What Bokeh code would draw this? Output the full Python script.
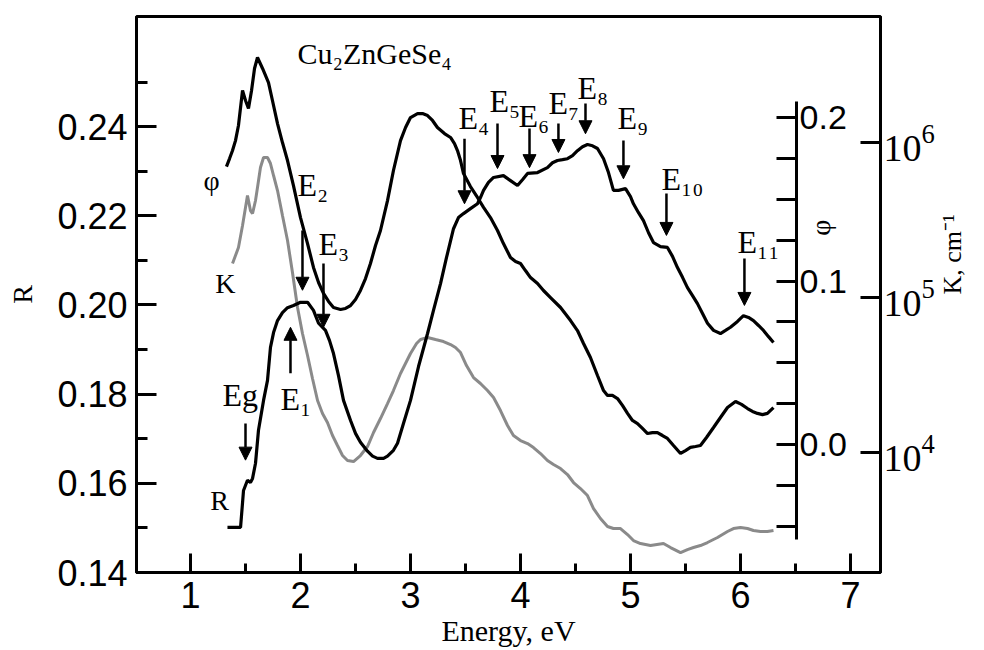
from math import pi
from bokeh.plotting import figure
from bokeh.models import (Range1d, LinearAxis, LogAxis, LogScale, FixedTicker,
                          Arrow, NormalHead, Label, ColumnDataSource, NumeralTickFormatter)
from bokeh.core.properties import value
from bokeh.embed import file_html
from bokeh.resources import INLINE

# ---------------- data ----------------
# phi(E) curve (right inner axis)
phi_E = [1.327, 1.355, 1.382, 1.409, 1.436, 1.473, 1.500, 1.527, 1.555, 1.582, 1.609, 1.655,
         1.709, 1.745, 1.791, 1.836, 1.882, 1.936, 2.000, 2.064, 2.118, 2.164, 2.209, 2.255,
         2.300, 2.364, 2.409, 2.455, 2.500, 2.545, 2.591, 2.636, 2.682, 2.727, 2.791, 2.845,
         2.909, 2.955, 3.000, 3.064, 3.109, 3.155, 3.200, 3.245, 3.309, 3.364, 3.400, 3.427,
         3.455, 3.482, 3.545, 3.609, 3.664, 3.727, 3.791, 3.845, 3.909, 3.955, 4.000, 4.045,
         4.091, 4.155, 4.209, 4.273, 4.364, 4.455, 4.518, 4.573, 4.636, 4.700, 4.755, 4.791,
         4.836, 4.882, 4.927, 4.973, 5.018, 5.064, 5.109, 5.155, 5.200, 5.245, 5.291, 5.336,
         5.391, 5.455, 5.500, 5.545, 5.591, 5.636, 5.691, 5.755, 5.818, 5.882, 5.955, 6.009,
         6.064, 6.109, 6.155, 6.200, 6.245, 6.300]
phi_val = [0.1700, 0.1749, 0.1798, 0.1859, 0.1951, 0.2165, 0.2104, 0.2055, 0.2165, 0.2300, 0.2367, 0.2300,
           0.2214, 0.2104, 0.1963, 0.1847, 0.1737, 0.1584, 0.1388, 0.1229, 0.1083, 0.0991, 0.0924, 0.0875,
           0.0838, 0.0826, 0.0832, 0.0850, 0.0887, 0.0942, 0.1015, 0.1107, 0.1217, 0.1309, 0.1492, 0.1676,
           0.1859, 0.1939, 0.2000, 0.2024, 0.2024, 0.2012, 0.1982, 0.1939, 0.1902, 0.1878, 0.1841, 0.1798,
           0.1737, 0.1657, 0.1578, 0.1511, 0.1450, 0.1388, 0.1309, 0.1229, 0.1144, 0.1119, 0.1107, 0.1064,
           0.1021, 0.0985, 0.0942, 0.0899, 0.0838, 0.0758, 0.0697, 0.0618, 0.0532, 0.0422, 0.0330, 0.0300,
           0.0300, 0.0281, 0.0239, 0.0190, 0.0147, 0.0128, 0.0098, 0.0067, 0.0073, 0.0073, 0.0055, 0.0037,
           -0.0006, -0.0055, -0.0037, -0.0018, -0.0012, -0.0006, 0.0043, 0.0104, 0.0165, 0.0226, 0.0263, 0.0245,
           0.0220, 0.0202, 0.0190, 0.0183, 0.0190, 0.0226]

# R(E) curve (left axis)
R_E = [1.336, 1.455, 1.482, 1.518, 1.545, 1.564, 1.591, 1.618, 1.664, 1.700, 1.727, 1.755,
       1.791, 1.836, 1.882, 1.936, 2.000, 2.064, 2.118, 2.164, 2.227, 2.264, 2.300, 2.345,
       2.391, 2.455, 2.500, 2.545, 2.609, 2.655, 2.700, 2.755, 2.791, 2.845, 2.882, 2.936,
       3.000, 3.073, 3.155, 3.209, 3.273, 3.327, 3.391, 3.436, 3.482, 3.545, 3.609, 3.636,
       3.664, 3.709, 3.755, 3.845, 3.909, 3.973, 4.018, 4.064, 4.155, 4.245, 4.291, 4.336,
       4.382, 4.427, 4.473, 4.518, 4.564, 4.609, 4.655, 4.700, 4.755, 4.800, 4.845, 4.891,
       4.955, 5.000, 5.027, 5.073, 5.118, 5.164, 5.209, 5.273, 5.336, 5.382, 5.427, 5.473,
       5.518, 5.564, 5.609, 5.655, 5.700, 5.755, 5.818, 5.864, 5.909, 5.973, 6.027, 6.073,
       6.118, 6.164, 6.209, 6.255, 6.300]
R_val = [0.1501, 0.1501, 0.1584, 0.1607, 0.1602, 0.1611, 0.1645, 0.1719, 0.1786, 0.1831, 0.1905, 0.1938,
         0.1965, 0.1983, 0.1994, 0.1999, 0.2006, 0.2006, 0.1988, 0.1959, 0.1943, 0.1920, 0.1891, 0.1842,
         0.1786, 0.1741, 0.1712, 0.1692, 0.1672, 0.1661, 0.1656, 0.1656, 0.1661, 0.1674, 0.1690, 0.1734,
         0.1786, 0.1862, 0.1936, 0.1988, 0.2048, 0.2106, 0.2171, 0.2196, 0.2205, 0.2216, 0.2227, 0.2241,
         0.2257, 0.2275, 0.2286, 0.2290, 0.2279, 0.2268, 0.2281, 0.2295, 0.2297, 0.2308, 0.2319, 0.2324,
         0.2326, 0.2328, 0.2335, 0.2346, 0.2355, 0.2360, 0.2357, 0.2351, 0.2328, 0.2297, 0.2257, 0.2257,
         0.2261, 0.2243, 0.2227, 0.2207, 0.2189, 0.2162, 0.2140, 0.2131, 0.2129, 0.2109, 0.2084, 0.2062,
         0.2039, 0.2021, 0.2003, 0.1981, 0.1959, 0.1943, 0.1936, 0.1943, 0.1950, 0.1963, 0.1976, 0.1972,
         0.1965, 0.1954, 0.1943, 0.1929, 0.1916]

# K(E) curve, cm^-1 (right log axis)
K_E = [1.382, 1.409, 1.436, 1.473, 1.518, 1.545, 1.564, 1.591, 1.609, 1.636, 1.664, 1.700,
       1.727, 1.755, 1.791, 1.836, 1.882, 1.927, 1.973, 2.018, 2.064, 2.109, 2.155, 2.200,
       2.245, 2.291, 2.336, 2.382, 2.427, 2.482, 2.545, 2.609, 2.664, 2.727, 2.791, 2.845,
       2.909, 3.000, 3.055, 3.091, 3.155, 3.227, 3.300, 3.364, 3.409, 3.455, 3.509, 3.573,
       3.636, 3.700, 3.755, 3.818, 3.882, 3.936, 4.000, 4.064, 4.118, 4.182, 4.245, 4.300,
       4.364, 4.427, 4.482, 4.545, 4.609, 4.664, 4.727, 4.791, 4.845, 4.909, 4.973, 5.027,
       5.091, 5.182, 5.300, 5.364, 5.455, 5.518, 5.573, 5.636, 5.700, 5.791, 5.882, 5.936,
       6.000, 6.064, 6.118, 6.182, 6.245, 6.300]
K_val = [1.657e5, 1.866e5, 2.102e5, 2.914e5, 4.551e5, 3.641e5, 3.482e5, 4.225e5, 5.126e5, 6.897e5, 8.002e5, 8.002e5,
         7.318e5, 6.126e5, 4.901e5, 3.381e5, 2.332e5, 1.450e5, 8.620e4, 5.858e4, 4.225e4, 3.002e4, 2.165e4, 1.785e4,
         1.561e4, 1.287e4, 1.110e4, 9.564e3, 8.879e3, 8.748e3, 9.564e3, 1.093e4, 1.346e4, 1.657e4, 2.071e4, 2.512e4,
         3.233e4, 4.352e4, 5.049e4, 5.358e4, 5.520e4, 5.358e4, 5.201e4, 4.975e4, 4.758e4, 4.418e4, 3.641e4, 3.047e4,
         2.788e4, 2.512e4, 2.263e4, 1.866e4, 1.494e4, 1.287e4, 1.195e4, 1.143e4, 1.077e4, 9.852e3, 8.879e3, 8.366e3,
         7.884e3, 7.213e3, 6.405e3, 5.858e3, 5.280e3, 4.352e3, 3.752e3, 3.331e3, 3.233e3, 3.233e3, 2.958e3, 2.706e3,
         2.588e3, 2.512e3, 2.588e3, 2.438e3, 2.263e3, 2.366e3, 2.438e3, 2.512e3, 2.627e3, 2.829e3, 3.093e3, 3.233e3,
         3.282e3, 3.233e3, 3.140e3, 3.093e3, 3.093e3, 3.140e3]

# transition markers
trans_names = ["Eg", "E\u2081", "E\u2082", "E\u2083", "E\u2084", "E\u2085", "E\u2086",
               "E\u2087", "E\u2088", "E\u2089", "E\u2081\u2080", "E\u2081\u2081"]
trans_E = [1.50, 1.909, 2.018, 2.209, 3.491, 3.791, 4.082, 4.345, 4.591, 4.936, 5.327, 6.036]
arrow_tail_R = [0.1734, 0.1847, 0.2167, 0.2093, 0.2373, 0.2407, 0.2396, 0.2407, 0.2452, 0.2369, 0.2250, 0.2104]
arrow_tip_R = [0.1652, 0.1950, 0.2033, 0.1950, 0.2227, 0.2306, 0.2308, 0.2342, 0.2384, 0.2283, 0.2156, 0.1999]
label_left_E = [1.291, 1.818, 1.973, 2.164, 3.436, 3.718, 3.982, 4.255, 4.518, 4.882, 5.282, 5.973]
label_mid_R = [0.1798, 0.1790, 0.2270, 0.2136, 0.2420, 0.2458, 0.2424, 0.2452, 0.2487, 0.2419, 0.2282, 0.2142]

curve_names = ["\u03c6", "K", "R"]
curve_name_E = [1.191, 1.318, 1.264]
curve_name_R = [0.2280, 0.2048, 0.1562]

x_ticks = [1, 2, 3, 4, 5, 6, 7]
x_minor = [1.5, 2.5, 3.5, 4.5, 5.5, 6.5]
R_ticks = [0.14, 0.16, 0.18, 0.20, 0.22, 0.24]
R_minor = [0.15, 0.17, 0.19, 0.21, 0.23, 0.25]
phi_ticks = [0.0, 0.1, 0.2]
phi_minor = [-0.05, -0.025, 0.025, 0.05, 0.075, 0.125, 0.15, 0.175]
K_ticks = [1e4, 1e5, 1e6]

SERIF = "Liberation Serif"
SANS = "Liberation Sans"

p = figure(width=984, height=650, output_backend="svg", toolbar_location=None,
           x_range=Range1d(0.509, 7.273), y_range=Range1d(0.14, 0.2647),
           min_border_left=136, min_border_right=104, min_border_top=16, min_border_bottom=78,
           background_fill_color="white", border_fill_color="white")
p.extra_y_ranges = {"phi": Range1d(-0.0783, 0.2618), "k": Range1d(10 ** 3.226, 10 ** 6.813)}
p.extra_y_scales = {"k": LogScale()}
p.xgrid.visible = False
p.ygrid.visible = False
p.outline_line_color = "black"
p.outline_line_width = 3


def style_axis(ax, font, size, tin, tmin, standoff):
    ax.axis_line_width = 3
    ax.axis_line_color = "black"
    ax.major_tick_line_width = 3
    ax.minor_tick_line_width = 3
    ax.major_tick_in = tin
    ax.major_tick_out = 0
    ax.minor_tick_in = tmin
    ax.minor_tick_out = 0
    ax.major_label_text_font = font
    ax.major_label_text_font_size = size
    ax.major_label_text_color = "black"
    ax.major_label_standoff = standoff
    ax.axis_label_text_color = "black"
    ax.axis_label_text_font = SERIF
    ax.axis_label_text_font_style = "normal"


xa = p.xaxis[0]
xa.ticker = FixedTicker(ticks=x_ticks, minor_ticks=x_minor)
style_axis(xa, SANS, "36px", 19, 9, 9)
xa.axis_label = "Energy, eV"
xa.axis_label_text_font_size = "30px"
xa.axis_label_standoff = 3

ya = p.yaxis[0]
ya.ticker = FixedTicker(ticks=R_ticks, minor_ticks=R_minor)
ya.formatter = NumeralTickFormatter(format="0.00")
style_axis(ya, SANS, "36px", 20, 11, 9)
ya.axis_label = "R"
ya.axis_label_text_font_size = "28px"
ya.axis_label_standoff = 16

k_axis = LogAxis(y_range_name="k", ticker=FixedTicker(ticks=K_ticks, minor_ticks=[]))
style_axis(k_axis, SERIF, "38px", 20, 0, 3)
k_axis.axis_label = "K, cm\u207b\u00b9"
k_axis.axis_label_text_font_size = "26px"
k_axis.axis_label_standoff = 15
k_axis.axis_label_orientation = pi / 2
p.add_layout(k_axis, "right")

phi_axis = LinearAxis(y_range_name="phi", fixed_location=6.51, bounds=(-0.058, 0.21),
                      ticker=FixedTicker(ticks=phi_ticks, minor_ticks=phi_minor),
                      formatter=NumeralTickFormatter(format="0.0"))
style_axis(phi_axis, SANS, "34px", 20, 20, 3)
p.add_layout(phi_axis, "right")

# curves
p.line(K_E, K_val, y_range_name="k", line_color="#8a8a8a", line_width=3)
p.line(phi_E, phi_val, y_range_name="phi", line_color="black", line_width=3.2)
p.line(R_E, R_val, line_color="black", line_width=3.2)

# transition arrows
asrc = ColumnDataSource(dict(x=trans_E, ys=arrow_tail_R, ye=arrow_tip_R))
p.add_layout(Arrow(x_start="x", y_start="ys", x_end="x", y_end="ye", source=asrc,
                   line_width=2.5, line_color="black",
                   end=NormalHead(size=13, fill_color="black", line_color="black", line_width=1)))

lsrc = ColumnDataSource(dict(x=label_left_E, y=label_mid_R, t=trans_names))
p.text(x="x", y="y", text="t", source=lsrc, text_font=value(SERIF), text_font_size=value("32px"),
       text_align="left", text_baseline="middle", text_color="black")

csrc = ColumnDataSource(dict(x=curve_name_E, y=curve_name_R, t=curve_names))
p.text(x="x", y="y", text="t", source=csrc, text_font=value(SERIF), text_font_size=value("28px"),
       text_align="center", text_baseline="middle", text_color="black")

p.add_layout(Label(x=1.973, y=0.2564, text="Cu\u2082ZnGeSe\u2084", text_font=SERIF,
                   text_font_size="30px", text_align="left", text_baseline="middle",
                   text_color="black"))
p.add_layout(Label(x=6.727, y=0.1327, y_range_name="phi", text="\u03c6", text_font=SERIF,
                   text_font_size="28px", text_align="center", text_baseline="middle",
                   angle=pi / 2, text_color="black"))

open("out.html", "w").write(file_html(p, INLINE))
